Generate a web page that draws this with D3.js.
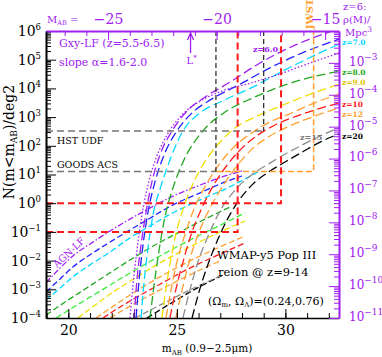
<!DOCTYPE html>
<html>
<head>
<meta charset="utf-8">
<script src="https://cdn.jsdelivr.net/npm/d3@7/dist/d3.min.js"></script>
<style>
  body { margin: 0; background: #fff; }
  svg { display: block; font-family: "DejaVu Serif", serif; }
</style>
</head>
<body>
<div id="container"></div>
<script>
/* CONSTANTS AND GLOBALS */
const width = 382, height = 357;
const margin = {top: 31, right: 43, bottom: 39, left: 46};
const x0 = margin.left, x1 = width - margin.right, y0 = margin.top, y1 = height - margin.bottom;

const purple = "#a020f0", blue = "#2222ff", cyan = "#00d8ff", green = "#22a822",
  lime = "#3cec3c", yellow = "#f0de00", orange = "#ffa030", red = "#ff1a1a", gray = "#8c8c8c";

/* DATA  [m_AB, N(<m) per deg2] */
// galaxy LF counts, one per redshift
const gxyZ6dot = [[22.84,1e-4],[22.98,1.4e-3],[23.16,2.3e-2],[23.39,0.39],[23.67,4.3],[24.04,37],[24.55,240],[25.24,1.2e3],[26.07,3.6e3],[27.08,8.1e3],[28.37,1.5e4],[29.75,3.2e4],[31.14,7.7e4],[32.47,1.7e5]];
const gxyZ6 = [[23.03,1e-4],[23.16,2.1e-3],[23.35,3.5e-2],[23.58,0.49],[23.85,5.5],[24.22,48],[24.78,330],[25.42,1.5e3],[26.3,5.0e3],[27.45,1.66e4],[28.83,7.7e4],[30.44,3.2e5],[32.15,1e6]];
const gxyZ65 = [[23.12,1e-4],[23.26,2.1e-3],[23.44,3.5e-2],[23.67,0.49],[23.99,5.5],[24.41,48],[25.0,330],[25.7,1.4e3],[26.62,4.3e3],[27.91,1.4e4],[29.29,5.2e4],[30.91,1.9e5],[32.47,5.2e5]];
const gxyZ7 = [[23.35,1e-4],[23.49,1.8e-3],[23.67,2.8e-2],[23.9,0.39],[24.27,4.0],[24.68,32],[25.28,330],[26.07,1.4e3],[27.08,3.6e3],[28.37,1.0e4],[29.98,4.4e4],[31.37,1.45e5],[32.47,3.5e5]];
const gxyZ8 = [[23.76,1e-4],[23.95,1.4e-3],[24.18,2.3e-2],[24.45,0.33],[24.82,3.4],[25.28,27],[26.2,330],[27.22,1.5e3],[28.51,4.7e3],[30.08,1.4e4],[32.47,4.0e4]];
const gxyZ9 = [[24.31,1e-4],[24.5,1.1e-3],[24.73,1.23e-2],[25.0,0.117],[25.38,1.0],[25.84,6.9],[26.44,41],[27.08,160],[27.68,420],[28.6,1.0e3],[29.75,2.4e3],[30.91,5.4e3],[32.47,1.4e4]];
const gxyZ95 = [[24.5,1e-4],[24.73,9.5e-4],[25.0,8.9e-3],[25.38,8.5e-2],[25.79,0.63],[26.34,4.3],[26.99,25],[27.73,107],[28.51,300],[29.29,680],[30.08,1.2e3],[31.23,2.9e3],[32.47,6.3e3]];
const gxyZ10 = [[24.68,1e-4],[24.95,9.5e-4],[25.28,8.9e-3],[25.65,7.8e-2],[26.11,0.58],[26.67,4.0],[27.31,21],[28.0,83],[28.74,240],[29.52,530],[30.68,1.2e3],[32.47,3.1e3]];
const gxyZ12 = [[24.95,1e-4],[25.24,9.5e-4],[25.56,8.9e-3],[25.97,7.8e-2],[26.48,0.58],[27.08,3.6],[27.77,20],[28.51,83],[29.29,220],[30.08,450],[31.23,1.0e3],[32.47,2.1e3]];
const gxyZ15 = [[25.28,1e-4],[25.6,9.5e-4],[25.97,8.9e-3],[26.44,7.2e-2],[26.99,0.54],[27.77,3.4],[28.51,10.5],[29.29,25],[30.08,56],[30.68,98],[31.6,220],[32.47,420]];
const gxyZ20 = [[25.7,1e-4],[26.02,8.1e-4],[26.39,6.0e-3],[26.8,3.8e-2],[27.26,0.22],[27.77,1.0],[28.51,4.7],[29.29,13.2],[30.08,30],[30.86,66],[31.6,135],[32.47,260]];

// AGN LF counts
const agnZ6 = [[18.97,1.7e-3],[19.62,5.5e-3],[20.21,1.45e-2],[21.0,3.8e-2],[21.78,9.2e-2],[22.84,0.28],[23.76,0.68],[24.55,1.4],[26.07,4.3],[27.22,8.9],[28.0,13.2]];
const agnZ65 = [[18.97,8.1e-4],[19.62,2.3e-3],[20.21,6.0e-3],[21.0,1.6e-2],[21.78,3.8e-2],[22.84,0.117],[23.76,0.30],[24.55,0.68],[26.07,2.3],[27.22,5.5],[28.0,8.9]];
const agnZ7 = [[18.97,4.3e-4],[19.62,1.1e-3],[20.21,2.7e-3],[21.0,7.1e-3],[21.78,1.7e-2],[22.84,6.2e-2],[23.76,0.16],[24.55,0.36],[26.07,1.3],[27.22,3.1],[28.74,12.3]];
const agnZ8 = [[18.97,1.26e-4],[19.85,3.6e-4],[20.77,1.02e-3],[21.78,3.2e-3],[22.84,1.05e-2],[23.99,3.5e-2],[25.14,0.10],[26.3,0.28],[27.45,0.74]];
const agnZ85 = [[19.43,1e-4],[20.54,3.3e-4],[21.69,1.1e-3],[22.84,3.7e-3],[24.22,1.45e-2],[25.6,5.2e-2],[26.99,0.17],[28.14,0.46]];
const agnZ9 = [[20.44,1e-4],[21.23,2.8e-4],[22.01,7.5e-4],[22.84,1.9e-3],[24.22,8.3e-3],[25.6,3.0e-2],[26.99,0.10],[28.14,0.24]];
const agnZ95 = [[21.27,1e-4],[22.01,2.4e-4],[22.84,6.3e-4],[24.22,2.7e-3],[25.6,9.8e-3],[26.99,3.0e-2],[28.14,7.2e-2]];
const agnZ10 = [[21.6,1e-4],[22.15,1.9e-4],[22.84,3.9e-4],[24.22,1.5e-3],[25.6,5.5e-3],[26.99,1.7e-2],[28.14,4.1e-2]];
const agnZ12 = [[21.92,1e-4],[22.84,2.6e-4],[24.22,9.5e-4],[25.6,3.2e-3],[26.99,9.8e-3]];
const agnZ15 = [[23.07,1e-4],[24.22,2.8e-4],[25.6,9.5e-4],[26.99,2.9e-3]];
const agnZ20 = [[23.62,1e-4],[24.68,3.1e-4],[25.93,1.1e-3],[27.22,3.4e-3]];

// survey depths
const surveyNames = ["GOODS ACS", "HST UDF"];
const surveyMag = [26.8, 29.0];
const surveyN = [12.6, 330];
const limitMag = [27.8, 29.8];
const limitN = [0.1, 1];
const jwstMag = 31.3, jwstN = 12.6;

// axes
const magTicks = [20, 25, 30];
const absMagTicks = [-25, -20, -15];
const distMod = 46.83;
const lStarM = -21.2;
const zLabels = ["z=7.0", "z=8.0", "z=9.0", "z=10", "z=12", "z=20"];
const zLabelN = [3.2e5, 3.0e4, 1.3e4, 2.2e3, 1.0e3, 1.7e2];
const zLabelColors = [cyan, green, "#e0c400", red, orange, "#000"];

/* SCALES */
const xScale = d3.scaleLinear().domain([18.97, 32.47]).range([x0, x1]);
const yScale = d3.scaleLog().domain([1e-4, 1e6]).range([y1, y0]);
const topScale = d3.scaleLinear().domain([18.97 - distMod, 32.47 - distMod]).range([x0, x1]);
const rhoScale = d3.scaleLog().domain([1e-11, 1e-2]).range([y1, y0]);

const svg = d3.select("#container").append("svg")
  .attr("width", width)
  .attr("height", height);

svg.append("clipPath").attr("id", "plotclip")
  .append("rect").attr("x", x0).attr("y", y0).attr("width", x1 - x0).attr("height", y1 - y0);

const plot = svg.append("g").attr("clip-path", "url(#plotclip)");

const line = d3.line()
  .x(d => xScale(d[0]))
  .y(d => yScale(d[1]))
  .curve(d3.curveMonotoneX);

/* AGN LINES */
const agnCurves = [
  {pts: agnZ20, color: "#000", dash: "6,3"},
  {pts: agnZ15, color: gray, dash: "6,3"},
  {pts: agnZ12, color: orange, dash: "6,3"},
  {pts: agnZ10, color: red, dash: "6,3"},
  {pts: agnZ95, color: orange, dash: "6,3"},
  {pts: agnZ9, color: yellow, dash: "6,3"},
  {pts: agnZ85, color: lime, dash: "6,3"},
  {pts: agnZ8, color: green, dash: "6,3"},
  {pts: agnZ7, color: cyan, dash: "6,3"},
  {pts: agnZ65, color: blue, dash: "6,3"},
  {pts: agnZ6, color: purple, dash: "6,2,1.5,2"}
];
plot.selectAll("path.agn")
  .data(agnCurves)
  .join("path")
  .attr("class", "agn")
  .attr("d", d => line(d.pts))
  .attr("fill", "none")
  .attr("stroke", d => d.color)
  .attr("stroke-width", 1.3)
  .attr("stroke-dasharray", d => d.dash);

/* GALAXY LF CURVES */
const gxyCurves = [
  {pts: gxyZ20, color: "#000", dash: "9,4"},
  {pts: gxyZ15, color: gray, dash: "9,4"},
  {pts: gxyZ12, color: orange, dash: "9,4"},
  {pts: gxyZ10, color: red, dash: "9,4"},
  {pts: gxyZ95, color: orange, dash: "9,4"},
  {pts: gxyZ9, color: yellow, dash: "9,4"},
  {pts: gxyZ8, color: green, dash: "9,4"},
  {pts: gxyZ7, color: cyan, dash: "9,4"},
  {pts: gxyZ65, color: blue, dash: "9,4"},
  {pts: gxyZ6dot, color: purple, dash: "1.5,2"},
  {pts: gxyZ6, color: purple, dash: "9,4"}
];
plot.selectAll("path.gxy")
  .data(gxyCurves)
  .join("path")
  .attr("class", "gxy")
  .attr("d", d => line(d.pts))
  .attr("fill", "none")
  .attr("stroke", d => d.color)
  .attr("stroke-width", 1.3)
  .attr("stroke-dasharray", d => d.dash);

/* SURVEY BOXES */
// JWST
plot.append("path")
  .attr("d", `M${xScale(surveyMag[0])},${yScale(jwstN)}H${xScale(jwstMag)}V${y0}`)
  .attr("fill", "none").attr("stroke", orange).attr("stroke-width", 1.5).attr("stroke-dasharray", "6,3");
surveyMag.forEach((m, i) => {
  plot.append("line")
    .attr("x1", x0).attr("x2", xScale(m))
    .attr("y1", yScale(surveyN[i])).attr("y2", yScale(surveyN[i]))
    .attr("stroke", "#777").attr("stroke-width", 1.5).attr("stroke-dasharray", "7,4");
  plot.append("line")
    .attr("x1", xScale(m)).attr("x2", xScale(m))
    .attr("y1", y0).attr("y2", yScale(surveyN[i]))
    .attr("stroke", "#222").attr("stroke-width", 1.2).attr("stroke-dasharray", "5,3");
});
limitMag.forEach((m, i) => {
  plot.append("path")
    .attr("d", `M${x0},${yScale(limitN[i])}H${xScale(m)}V${y0}`)
    .attr("fill", "none").attr("stroke", red).attr("stroke-width", 2).attr("stroke-dasharray", "7,4");
});

/* AXES */
const decades = d3.range(-4, 7).map(e => Math.pow(10, e));
const minors = [];
d3.range(-4, 6).forEach(e => d3.range(2, 10).forEach(k => minors.push(k * Math.pow(10, e))));
const rhoDecades = d3.range(-11, -1).map(e => Math.pow(10, e));
const rhoMinors = [];
d3.range(-11, -2).forEach(e => d3.range(2, 10).forEach(k => rhoMinors.push(k * Math.pow(10, e))));

function expLabel(sel, size, supSize, supDy) {
  sel.each(function(d) {
    const t = d3.select(this);
    const e = Math.round(Math.log10(d));
    t.text(null);
    t.append("tspan").text("10");
    t.append("tspan").attr("dy", supDy).attr("font-size", supSize).text(e < 0 ? "\u2212" + (-e) : e);
  }).attr("font-size", size).attr("font-family", "DejaVu Serif");
}

// left
svg.append("g")
  .attr("transform", `translate(${x0},0)`)
  .call(d3.axisLeft(yScale).tickValues(minors).tickSize(-5).tickSizeOuter(0).tickFormat(""))
  .call(g => g.select(".domain").remove());
svg.append("g")
  .attr("transform", `translate(${x0},0)`)
  .call(d3.axisLeft(yScale).tickValues(decades).tickSize(-10).tickSizeOuter(0).tickPadding(5))
  .call(g => g.select(".domain").attr("stroke-width", 2))
  .call(g => expLabel(g.selectAll(".tick text"), 14, 8.5, -6));

// bottom
svg.append("g")
  .attr("transform", `translate(0,${y1})`)
  .call(d3.axisBottom(xScale).tickValues(d3.range(19, 33)).tickSize(-5).tickSizeOuter(0).tickFormat(""))
  .call(g => g.select(".domain").remove());
svg.append("g")
  .attr("transform", `translate(0,${y1})`)
  .call(d3.axisBottom(xScale).tickValues(magTicks).tickSize(-9).tickSizeOuter(0).tickPadding(7))
  .call(g => g.select(".domain").attr("stroke-width", 1.5))
  .call(g => g.selectAll(".tick text").attr("font-size", 14).attr("font-family", "DejaVu Serif"));

// top (absolute magnitude at z=6)
svg.append("g")
  .attr("transform", `translate(0,${y0})`)
  .attr("color", purple)
  .call(d3.axisTop(topScale).tickValues(d3.range(-27, -14)).tickSize(-5).tickSizeOuter(0).tickFormat(""))
  .call(g => g.select(".domain").remove());
svg.append("g")
  .attr("transform", `translate(0,${y0})`)
  .attr("color", purple)
  .call(d3.axisTop(topScale).tickValues(absMagTicks).tickSize(-9).tickSizeOuter(0).tickPadding(7)
    .tickFormat(d => "\u2212" + (-d)))
  .call(g => g.select(".domain").attr("stroke-width", 2))
  .call(g => g.selectAll(".tick text").attr("font-size", 14).attr("font-family", "DejaVu Serif"));

// right (space density)
svg.append("g")
  .attr("transform", `translate(${x1},0)`)
  .attr("color", purple)
  .call(d3.axisRight(rhoScale).tickValues(rhoMinors).tickSize(-5).tickSizeOuter(0).tickFormat(""))
  .call(g => g.select(".domain").remove());
svg.append("g")
  .attr("transform", `translate(${x1},0)`)
  .attr("color", purple)
  .call(d3.axisRight(rhoScale).tickValues(rhoDecades).tickSize(-10).tickSizeOuter(0).tickPadding(10))
  .call(g => g.select(".domain").attr("stroke-width", 2))
  .call(g => g.selectAll(".tick").filter(d => d > 2e-3).select("text").remove())
  .call(g => g.selectAll(".tick text").attr("dy", "0.2em"))
  .call(g => expLabel(g.selectAll(".tick text"), 12, 9, -6));

/* AXIS TITLES */
const xt = svg.append("text").attr("x", 207).attr("y", 352).attr("text-anchor", "middle")
  .attr("font-size", 10.5);
xt.append("tspan").text("m");
xt.append("tspan").attr("font-size", 7).attr("dy", 3).text("AB");
xt.append("tspan").attr("dy", -3).text(" (0.9\u22122.5\u03bcm)");

const yt = svg.append("text").attr("transform", "translate(14,142) rotate(-90)")
  .attr("text-anchor", "middle").attr("font-size", 14);
yt.append("tspan").text("N(m<m");
yt.append("tspan").attr("font-size", 9).attr("dy", 3).text("AB");
yt.append("tspan").attr("dy", -3).text(")/deg2");

const mt = svg.append("text").attr("x", 47).attr("y", 23).attr("fill", purple).attr("font-size", 10);
mt.append("tspan").text("M");
mt.append("tspan").attr("font-size", 6.5).attr("dy", 2).text("AB");
mt.append("tspan").attr("dy", -2).text(" =");

const rt = svg.append("g").attr("fill", purple).attr("font-size", 10);
rt.append("text").attr("x", 343).attr("y", 10).text("z=6:");
rt.append("text").attr("x", 343).attr("y", 23).text("\u03c1(M)/");
const mpc = rt.append("text").attr("x", 345).attr("y", 36);
mpc.append("tspan").text("Mpc");
mpc.append("tspan").attr("dy", -4).attr("font-size", 7.5).text("3");

/* ANNOTATIONS */
svg.append("text").attr("x", 59).attr("y", 47).attr("fill", purple).attr("font-size", 11)
  .text("Gxy-LF (z=5.5-6.5)");
svg.append("text").attr("x", 59).attr("y", 66).attr("fill", purple).attr("font-size", 11)
  .text("slope \u03b1=1.6-2.0");

// L* arrow
const lx = topScale(lStarM);
svg.append("line").attr("x1", lx).attr("x2", lx).attr("y1", 53).attr("y2", 34)
  .attr("stroke", purple).attr("stroke-width", 1.3);
svg.append("path").attr("d", `M${lx - 3},${40}L${lx},${33}L${lx + 3},${40}`)
  .attr("fill", "none").attr("stroke", purple).attr("stroke-width", 1.3);
const ls = svg.append("text").attr("x", lx - 4).attr("y", 64).attr("fill", purple).attr("font-size", 10);
ls.append("tspan").text("L");
ls.append("tspan").attr("dy", -4).attr("font-size", 7).text("*");

svg.append("text").attr("x", 57).attr("y", 144).attr("font-size", 9.5).text(surveyNames[1]);
svg.append("text").attr("x", 57).attr("y", 168).attr("font-size", 9.5).text(surveyNames[0]);

svg.append("text").attr("transform", "translate(57,268) rotate(-43)")
  .attr("fill", purple).attr("font-size", 9.5).text("AGN-LF");

svg.append("text").attr("transform", "translate(313,14) rotate(-90)")
  .attr("text-anchor", "middle").attr("fill", orange).attr("font-size", 10).attr("font-weight", "bold")
  .text("JWST");

svg.append("text").attr("x", 253).attr("y", 52).attr("fill", purple).attr("font-size", 8)
  .attr("font-weight", "bold").text("z=6.0");
svg.append("text").attr("x", 300).attr("y", 140).attr("fill", "#777").attr("font-size", 8)
  .attr("font-weight", "bold").text("z=15");

svg.selectAll("text.zlab")
  .data(zLabels)
  .join("text")
  .attr("class", "zlab")
  .attr("x", x1 + 3)
  .attr("y", (d, i) => yScale(zLabelN[i]))
  .attr("fill", (d, i) => zLabelColors[i])
  .attr("font-size", 7.5)
  .attr("font-weight", "bold")
  .text(d => d);

svg.append("text").attr("x", 217).attr("y", 259).attr("font-size", 11.5).text("WMAP-y5 Pop III");
svg.append("text").attr("x", 218).attr("y", 276).attr("font-size", 11.5).text("reion @ z=9-14");
const om = svg.append("text").attr("x", 208).attr("y", 305).attr("font-size", 11);
om.append("tspan").text("(\u03a9");
om.append("tspan").attr("font-size", 7).attr("dy", 2).text("m");
om.append("tspan").attr("dy", -2).text(", \u03a9");
om.append("tspan").attr("font-size", 7).attr("dy", 2).text("\u039b");
om.append("tspan").attr("dy", -2).text(")=(0.24,0.76)");
</script>
</body>
</html>
